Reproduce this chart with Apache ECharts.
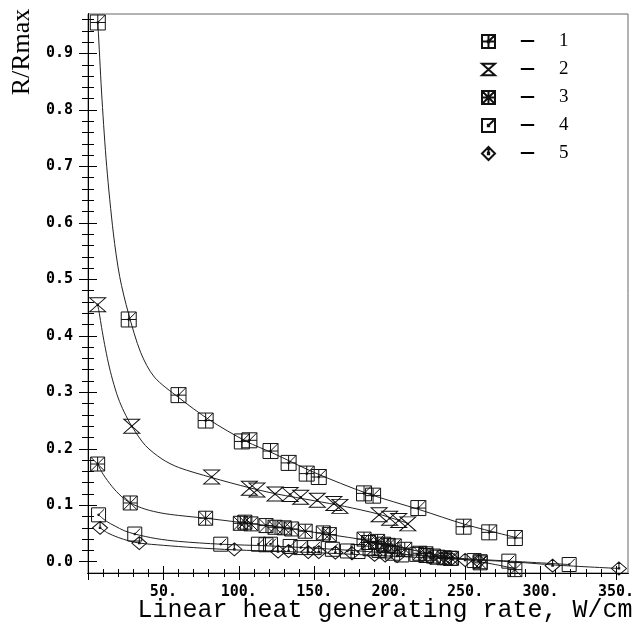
<!DOCTYPE html>
<html>
<head>
<meta charset="utf-8">
<script src="https://cdn.jsdelivr.net/npm/echarts@6/dist/echarts.min.js"></script>
<style>html,body{margin:0;padding:0;background:#fff}#c{width:637px;height:630px}</style>
</head>
<body>
<div id="c"></div>
<script>
// ---- data ----
const x1 = [6.5, 27, 60, 78, 102, 107, 121, 133, 145, 153, 183, 189, 219, 249, 266, 283];
const y1 = [0.955, 0.429, 0.295, 0.250, 0.213, 0.215, 0.196, 0.175, 0.156, 0.150, 0.121, 0.117, 0.095, 0.062, 0.052, 0.042];

const x2 = [6.4, 29, 82, 107, 112, 124, 134, 141, 152, 163, 167, 193, 200, 206, 212];
const y2 = [0.455, 0.240, 0.150, 0.130, 0.127, 0.120, 0.119, 0.114, 0.109, 0.103, 0.098, 0.083, 0.077, 0.073, 0.067];

const x3 = [6.4, 28, 78, 101, 104, 108, 118, 124, 130, 135, 144, 156, 160, 183, 186, 192, 196, 199, 203, 210, 220, 224, 229, 236, 241, 260, 283];
const y3 = [0.173, 0.104, 0.077, 0.068, 0.070, 0.067, 0.064, 0.061, 0.060, 0.058, 0.054, 0.051, 0.048, 0.040, 0.034, 0.036, 0.031, 0.029, 0.028, 0.022, 0.015, 0.014, 0.010, 0.007, 0.006, -0.002, -0.014];

const x4 = [7, 31, 88, 113, 118, 121, 134, 141, 150, 162, 172, 179, 187, 193, 197, 202, 208, 218, 224, 232, 240, 256, 260, 279, 319];
const y4 = [0.083, 0.049, 0.031, 0.031, 0.030, 0.031, 0.027, 0.025, 0.025, 0.022, 0.019, 0.018, 0.023, 0.020, 0.019, 0.015, 0.012, 0.013, 0.011, 0.008, 0.006, 0.002, 0.000, 0.001, -0.005];

const x5 = [8, 34, 97, 126, 133, 146, 153, 164, 175, 190, 197, 205, 227, 234, 238, 241, 250, 259, 308, 352];
const y5 = [0.060, 0.033, 0.022, 0.018, 0.019, 0.017, 0.017, 0.016, 0.015, 0.012, 0.011, 0.010, 0.007, 0.006, 0.006, 0.005, 0.003, 0.001, -0.007, -0.012];

// fitted curves
const c1x = [6.5, 6.9, 9.3, 12.4, 16.8, 21, 26.8, 35, 44, 60, 80, 105, 122, 150, 185, 220, 250, 285];
const c1y = [0.955, 0.936, 0.818, 0.700, 0.582, 0.505, 0.440, 0.370, 0.327, 0.291, 0.252, 0.213, 0.193, 0.158, 0.121, 0.092, 0.066, 0.042];
const c2x = [6.4, 7.5, 9, 11, 13.5, 16.3, 20, 24, 29, 38, 49, 60, 82, 107, 125, 150, 170, 193, 212];
const c2y = [0.455, 0.440, 0.415, 0.385, 0.352, 0.322, 0.290, 0.265, 0.240, 0.206, 0.182, 0.167, 0.149, 0.131, 0.120, 0.108, 0.098, 0.084, 0.068];
const c3x = [6.4, 10, 16, 22, 28, 38, 49, 60, 78, 100, 125, 150, 180, 200, 220, 240, 260, 283];
const c3y = [0.173, 0.155, 0.133, 0.116, 0.104, 0.093, 0.086, 0.082, 0.077, 0.070, 0.062, 0.052, 0.040, 0.030, 0.018, 0.008, 0.000, -0.012];
const c4x = [7, 12, 18, 24, 31, 45, 60, 88, 120, 150, 180, 210, 240, 280, 319];
const c4y = [0.083, 0.072, 0.063, 0.055, 0.049, 0.041, 0.036, 0.031, 0.028, 0.024, 0.019, 0.013, 0.007, 0.001, -0.005];
const c5x = [8, 13, 20, 27, 34, 50, 70, 97, 130, 160, 200, 240, 280, 310, 352];
const c5y = [0.060, 0.051, 0.043, 0.037, 0.033, 0.029, 0.025, 0.021, 0.018, 0.015, 0.010, 0.005, 0.000, -0.006, -0.012];

const seriesNames = ['1', '2', '3', '4', '5'];

// ticks
const xMajorTicks = [0, 50, 100, 150, 200, 250, 300, 350];
const xTickLabels = [50, 100, 150, 200, 250, 300, 350];
const xMinorTicks = [10, 20, 30, 40, 60, 70, 80, 90, 110, 120, 130, 140, 160, 170, 180, 190, 210, 220, 230, 240, 260, 270, 280, 290, 310, 320, 330, 340];
const yMajorTicks = [0, 0.1, 0.2, 0.3, 0.4, 0.5, 0.6, 0.7, 0.8, 0.9];
const yTickLabels = [0, 0.1, 0.2, 0.3, 0.4, 0.5, 0.6, 0.7, 0.8, 0.9];
const yMinorTicks = [0.02, 0.04, 0.06, 0.08, 0.12, 0.14, 0.16, 0.18, 0.22, 0.24, 0.26, 0.28, 0.32, 0.34, 0.36, 0.38, 0.42, 0.44, 0.46, 0.48, 0.52, 0.54, 0.56, 0.58, 0.62, 0.64, 0.66, 0.68, 0.72, 0.74, 0.76, 0.78, 0.82, 0.84, 0.86, 0.88, 0.92, 0.94, 0.96];

// ---- chart ----
const pair = (xs, ys) => xs.map((x, i) => [x, ys[i]]);
const X_MIN = 0, X_MAX = 358, Y_MIN = -0.02, Y_MAX = 0.97;

const symbols = [
  'path://M0 0H20V20H0Z M10 0V20 M0 10H20 M10 10L20 0 M9 9H11V11H9Z',
  'path://M0 0H20L0 18H20Z M9 8H11V10H9Z',
  'path://M0 0H20V20H0Z M10 0V20 M0 10H20 M0 0L20 20 M20 0L0 20 M9 9H11V11H9Z',
  'path://M0 0H20V20H0Z M10 10L18 2 M9 9H11V11H9Z',
  'path://M10 0L20 10L10 20L0 10Z M10 0V10 M9 9H11V11H9Z'
];
const sizes = [15, [16, 14], 14, 14, [15, 13]];
const pts = [pair(x1, y1), pair(x2, y2), pair(x3, y3), pair(x4, y4), pair(x5, y5)];
const curves = [pair(c1x, c1y), pair(c2x, c2y), pair(c3x, c3y), pair(c4x, c4y), pair(c5x, c5y)];

const tickFont = {fontFamily: 'DejaVu Sans Mono', fontWeight: 'bold', fontSize: 15, color: '#000'};

function xAxisDef(ticks, len, inside, labels) {
  return {
    type: 'value', position: 'bottom', min: X_MIN, max: X_MAX, gridIndex: 0,
    axisLine: {show: true, onZero: false, lineStyle: {color: '#000', width: 1}},
    axisTick: {show: true, customValues: ticks, length: len, inside: inside, lineStyle: {color: '#000', width: 1}},
    axisLabel: labels ? Object.assign({show: true, customValues: xTickLabels, margin: 12, formatter: v => v + '.'}, tickFont) : {show: false},
    splitLine: {show: false}
  };
}
function yAxisDef(ticks, len, inside, labels) {
  return {
    type: 'value', position: 'left', min: Y_MIN, max: Y_MAX, gridIndex: 0,
    axisLine: {show: true, onZero: false, lineStyle: {color: '#000', width: 1}},
    axisTick: {show: true, customValues: ticks, length: len, inside: inside, lineStyle: {color: '#000', width: 1}},
    axisLabel: labels ? Object.assign({show: true, customValues: yTickLabels, margin: 15, formatter: v => v.toFixed(1)}, tickFont) : {show: false},
    splitLine: {show: false}
  };
}

const series = [];
for (let i = 0; i < 5; i++) {
  series.push({
    type: 'line', data: curves[i], smooth: 0.3, showSymbol: false, symbol: 'none',
    lineStyle: {color: '#222', width: 1}, silent: true, z: 1, legendHoverLink: false
  });
}
for (let i = 0; i < 5; i++) {
  series.push({
    name: seriesNames[i], type: 'scatter', data: pts[i], symbol: symbols[i], symbolSize: sizes[i],
    itemStyle: {color: 'rgba(0,0,0,0)', borderColor: '#111', borderWidth: 1, opacity: 1}, z: 3
  });
}

const chart = echarts.init(document.getElementById('c'), null, {renderer: 'canvas'});
chart.setOption({
  animation: false,
  backgroundColor: '#fff',
  grid: {left: 88, right: 3, top: 14, bottom: 57, show: true, borderColor: '#666', borderWidth: 1, backgroundColor: 'transparent'},
  xAxis: [xAxisDef(xMajorTicks, 7, false, true), xAxisDef(xMajorTicks, 7, true, false), xAxisDef(xMinorTicks, 4, false, false), xAxisDef(xMinorTicks, 4, true, false)],
  yAxis: [yAxisDef(yMajorTicks, 9, false, true), yAxisDef(yMajorTicks, 9, true, false), yAxisDef(yMinorTicks, 6, false, false), yAxisDef(yMinorTicks, 6, true, false)],
  legend: {
    orient: 'vertical', left: 481, top: 32, padding: 0, itemWidth: 13, itemHeight: 13, itemGap: 9,
    data: seriesNames, selectedMode: false,
    formatter: n => '{d|—}{n|' + n + '}',
    textStyle: {rich: {
      d: {fontFamily: 'DejaVu Sans', fontSize: 15, fontWeight: 'bold', lineHeight: 20, padding: [0, 24, 0, 20], color: '#000'},
      n: {fontFamily: 'Liberation Serif', fontSize: 19, lineHeight: 20, color: '#000'}
    }}
  },
  graphic: [
    {type: 'text', x: 22, y: 52, rotation: Math.PI / 2,
     style: {text: 'R/Rmax', fontFamily: 'Liberation Serif', fontSize: 26, fill: '#000', align: 'center', verticalAlign: 'middle'}},
    {type: 'text', x: 385, y: 610,
     style: {text: 'Linear heat generating rate, W/cm', fontFamily: 'Liberation Mono', fontSize: 25, fill: '#000', align: 'center', verticalAlign: 'middle'}}
  ],
  series: series
});
</script>
</body>
</html>
